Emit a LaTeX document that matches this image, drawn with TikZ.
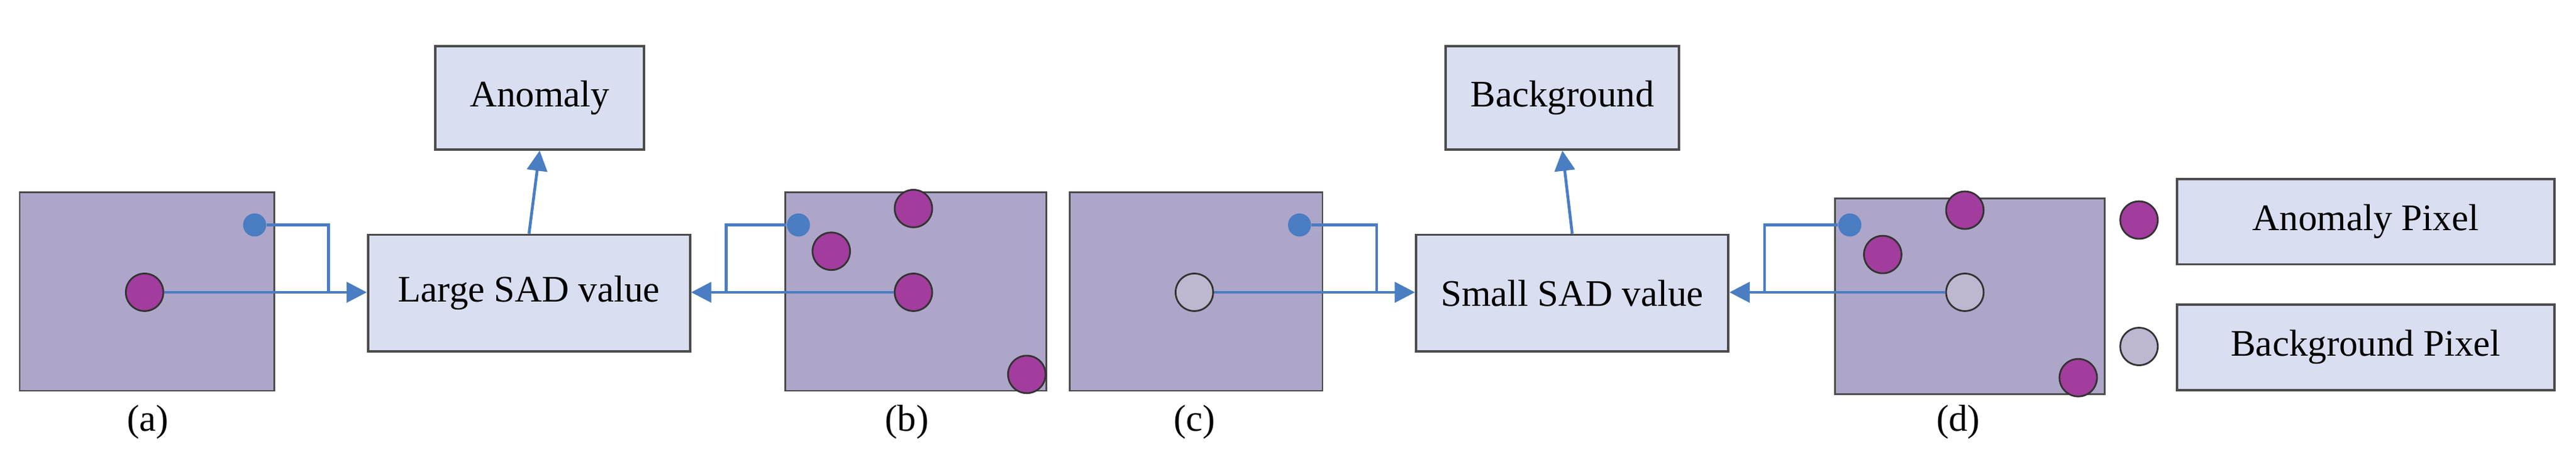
\documentclass[tikz,border=0pt]{standalone}
\usepackage{fontspec}
\setmainfont{Liberation Serif}
\usetikzlibrary{arrows.meta}
\definecolor{panel}{HTML}{ADA6C8}
\definecolor{boxf}{HTML}{D9DFF1}
\definecolor{arr}{HTML}{4A7DC2}
\definecolor{mag}{HTML}{A23D9E}
\definecolor{bgp}{HTML}{BDB8CF}
\tikzset{
 panelbox/.style={draw=black!70, fill=panel, line width=0.6pt},
 txtbox/.style={draw=black!70, fill=boxf, line width=0.8pt, font=\fontsize{13}{15}\selectfont},
 conn/.style={draw=arr, line width=1pt},
 arrow/.style={conn, -{Triangle[length=7pt,width=7pt]}},
 anom/.style={circle, draw=black!80, fill=mag, inner sep=0pt, minimum size=13pt, line width=0.6pt},
 bgpix/.style={circle, draw=black!80, fill=bgp, inner sep=0pt, minimum size=13pt, line width=0.6pt},
 bluedot/.style={circle, fill=arr, inner sep=0pt, minimum size=8pt},
 lab/.style={font=\fontsize{13}{15}\selectfont}
}
\begin{document}
\begin{tikzpicture}[x=0.02cm,y=-0.02cm]
\useasboundingbox (0,0) rectangle (1568,282.2);
% panels
\draw[panelbox] (12,117) rectangle (167,238);
\draw[panelbox] (478,117) rectangle (637,238);
\draw[panelbox] (651,117) rectangle (805,238);
\draw[panelbox] (1117,121) rectangle (1281,240);
% text boxes
\node[txtbox, minimum width=196*0.02cm, minimum height=71*0.02cm] (large) at (322,178.5) {Large SAD value};
\node[txtbox, minimum width=127*0.02cm, minimum height=63*0.02cm] (anomaly) at (328.5,59.5) {Anomaly};
\node[txtbox, minimum width=190*0.02cm, minimum height=71*0.02cm] (small) at (957,178.5) {Small SAD value};
\node[txtbox, minimum width=142*0.02cm, minimum height=63*0.02cm] (backg) at (951,59.5) {Background};
\node[txtbox, minimum width=230*0.02cm, minimum height=52*0.02cm] (lanom) at (1440,135) {Anomaly Pixel};
\node[txtbox, minimum width=230*0.02cm, minimum height=52*0.02cm] (lbg) at (1440,211.5) {Background Pixel};
% (a)
\node[bluedot] (ab) at (155,137) {};
\node[anom] (am) at (88,178) {};
\coordinate (aj) at (200,178);
\draw[conn] (ab) -- (200,137) -- (aj);
\draw[arrow] (am) -- (am -| large.west);
% (b)
\node[bluedot] (bb) at (486,137) {};
\node[anom] (b1) at (556,127) {};
\node[anom] (b2) at (506,153) {};
\node[anom] (bm) at (556,178) {};
\node[anom] (b4) at (625,228) {};
\draw[conn] (bb) -- (442,137) -- (442,178);
\draw[arrow] (bm) -- (bm -| large.east);
\draw[arrow] (large.north) -- (anomaly.south);
% (c)
\node[bluedot] (cb) at (791,137) {};
\node[bgpix] (cm) at (727,178) {};
\draw[conn] (cb) -- (838,137) -- (838,178);
\draw[arrow] (cm) -- (cm -| small.west);
% (d)
\node[bluedot] (db) at (1126,137) {};
\node[anom] (d1) at (1196,128) {};
\node[anom] (d2) at (1146,155) {};
\node[bgpix] (dm) at (1196,178) {};
\node[anom] (d4) at (1265,230) {};
\draw[conn] (db) -- (1074,137) -- (1074,178);
\draw[arrow] (dm) -- (dm -| small.east);
\draw[arrow] (small.north) -- (backg.south);
% legend
\node[anom] (la) at (1302,134) {};
\node[bgpix] (lb) at (1302,211) {};
% labels
\node[lab] (ta) at (90,257) {(a)};
\node[lab] (tb) at (552,257) {(b)};
\node[lab] (tc) at (727,257) {(c)};
\node[lab] (td) at (1192,257) {(d)};
\end{tikzpicture}
\end{document}
